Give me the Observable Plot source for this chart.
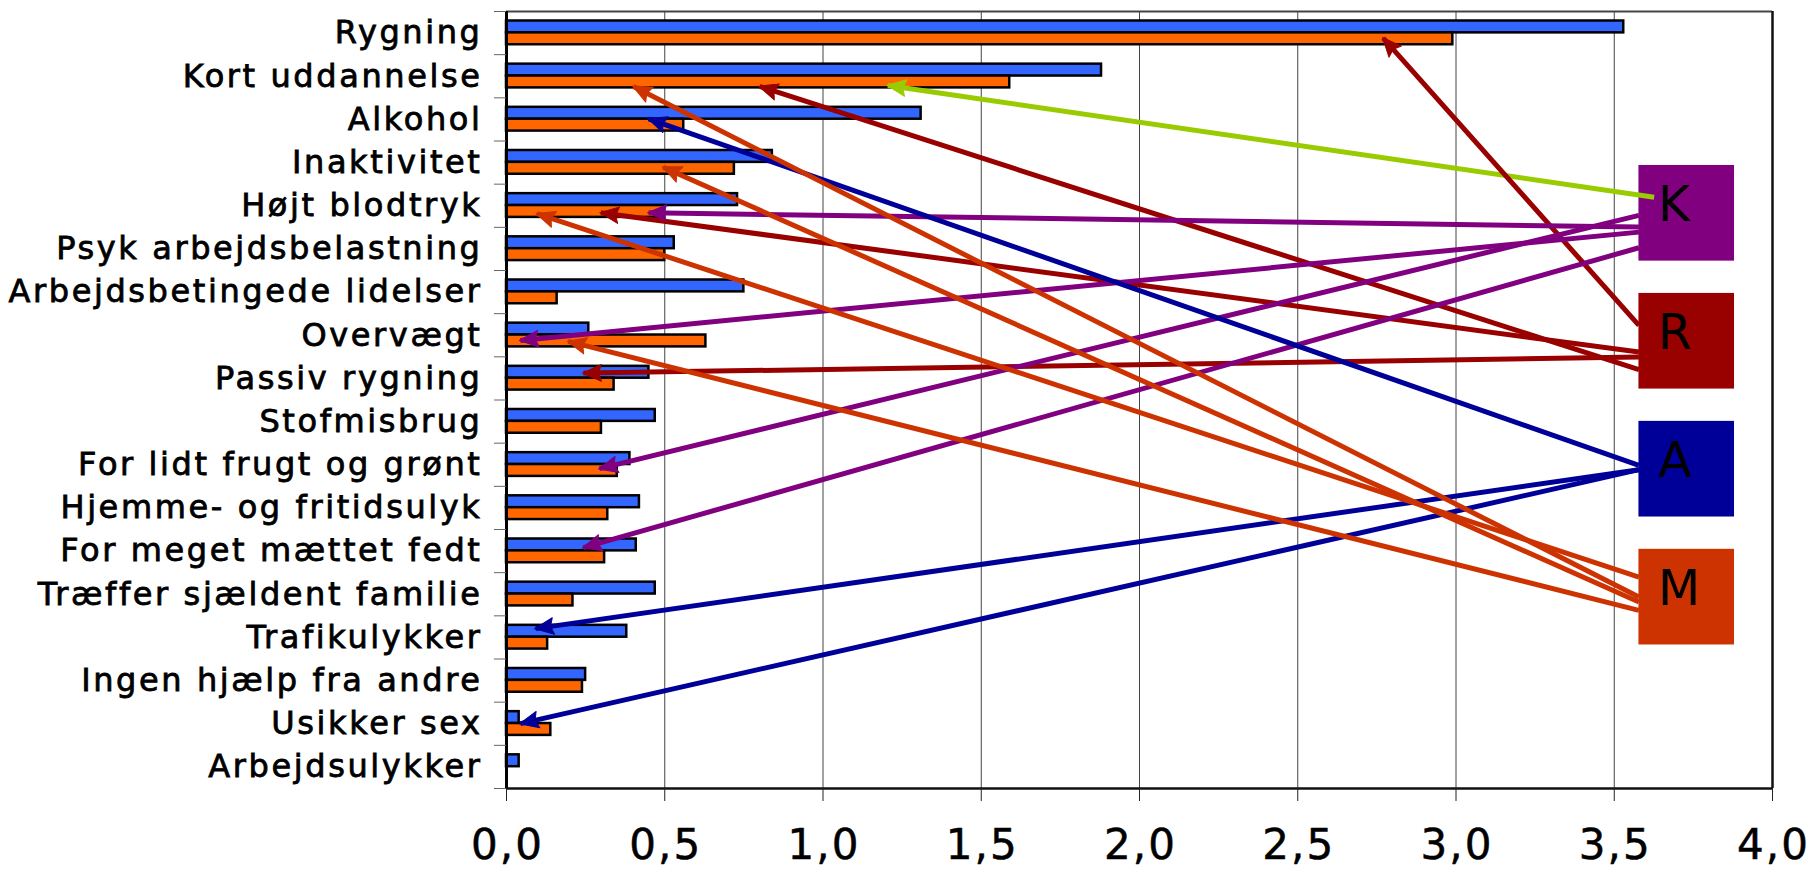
<!DOCTYPE html>
<html>
<head>
<meta charset="utf-8">
<script src="https://cdn.jsdelivr.net/npm/d3@7"></script>
<script src="https://cdn.jsdelivr.net/npm/@observablehq/plot@0.6"></script>
<style>
  html, body { margin: 0; padding: 0; background: #fff; }
  svg { display: block; }
</style>
</head>
<body>
<div id="chart"></div>
<script>
// ---- data ----
const categories = ["Rygning","Kort uddannelse","Alkohol","Inaktivitet","Højt blodtryk","Psyk arbejdsbelastning","Arbejdsbetingede lidelser","Overvægt","Passiv rygning","Stofmisbrug","For lidt frugt og grønt","Hjemme- og fritidsulyk","For meget mættet fedt","Træffer sjældent familie","Trafikulykker","Ingen hjælp fra andre","Usikker sex","Arbejdsulykker"];
const blueValues   = [3.53,1.88,1.31,0.84,0.73,0.53,0.75,0.26,0.45,0.47,0.39,0.42,0.41,0.47,0.38,0.25,0.04,0.04];
const orangeValues = [2.99,1.59,0.56,0.72,0.50,0.50,0.16,0.63,0.34,0.30,0.35,0.32,0.31,0.21,0.13,0.24,0.14,0];
const xTicks = [0,0.5,1,1.5,2,2.5,3,3.5,4];
const xTickLabels = ["0,0","0,5","1,0","1,5","2,0","2,5","3,0","3,5","4,0"];

// annotation boxes (x in value units, y in category units)
const boxLetters = ["K","R","A","M"];
const boxColors  = ["#800080","#990000","#000099","#CC3300"];
const boxTop     = [3.567, 6.531, 9.495, 12.459];
const boxBottom  = [5.783, 8.747, 11.711, 14.675];
const boxLeft = 3.578, boxRight = 3.880;

// annotation arrows (from box to bar)
const arrowColors = ["#99CC00","#990000","#990000","#990000","#990000","#800080","#800080","#800080","#800080","#000099","#000099","#000099","#CC3300","#CC3300","#CC3300","#CC3300"];
const arrowFromX = [3.626,3.578,3.578,3.578,3.578,3.578,3.578,3.578,3.578,3.578,3.578,3.578,3.578,3.578,3.578,3.578];
const arrowFromY = [4.301,7.272,8.298,7.890,8.006,4.995,5.111,4.724,5.473,10.514,10.614,10.614,13.564,13.680,13.101,13.872];
const arrowToX   = [1.205,2.770,0.800,0.298,0.243,0.449,0.044,0.294,0.243,0.449,0.092,0.044,0.401,0.495,0.096,0.195];
const arrowToY   = [1.714,0.618,1.737,4.662,8.377,4.662,7.619,10.591,12.420,2.485,14.296,16.496,1.737,3.606,4.685,7.642];

// ---- chart ----
const idx = d3.range(categories.length);
const boxIdx = d3.range(boxLetters.length);
const arrowIdx = d3.range(arrowColors.length);

const chart = Plot.plot({
  width: 1810,
  height: 869,
  marginLeft: 506,
  marginRight: 38,
  marginTop: 11,
  marginBottom: 81,
  style: { fontFamily: "'DejaVu Sans', Verdana, sans-serif", background: "#fff", color: "#000", overflow: "visible" },
  x: { domain: [0, 4] },
  y: { domain: [categories.length, 0] },
  marks: [
    // vertical gridlines
    Plot.ruleX(xTicks.slice(1, -1), { stroke: "#444", strokeWidth: 1 }),
    // bars
    Plot.rect(idx, { x1: 0, x2: i => blueValues[i], y1: i => i + 0.22, y2: i => i + 0.495, fill: "#3366FF", stroke: "#000", strokeWidth: 2.5 }),
    Plot.rect(idx.filter(i => orangeValues[i] > 0), { x1: 0, x2: i => orangeValues[i], y1: i => i + 0.495, y2: i => i + 0.77, fill: "#FF6600", stroke: "#000", strokeWidth: 2.5 }),
    // frame
    Plot.ruleY([0], { stroke: "#444", strokeWidth: 2 }),
    Plot.ruleX([4], { stroke: "#111", strokeWidth: 2.5 }),
    Plot.ruleY([categories.length], { stroke: "#111", strokeWidth: 2.5 }),
    Plot.ruleX([0], { stroke: "#000", strokeWidth: 3 }),
    // axes
    Plot.axisY({ ticks: d3.range(categories.length + 1), tickSize: 12, tickFormat: () => "", stroke: "#666", label: null }),
    Plot.axisY({ ticks: idx.map(i => i + 0.5), tickSize: 0, tickPadding: 24, tickFormat: d => categories[Math.floor(d)], fontSize: 32, fill: "#000", label: null }),
    Plot.axisX({ ticks: xTicks, tickSize: 13, tickPadding: 28, tickFormat: d => xTickLabels[xTicks.indexOf(d)], fontSize: 42, stroke: "#222", fill: "#000", label: null }),
    // boxes
    Plot.rect(boxIdx, { x1: boxLeft, x2: boxRight, y1: i => boxTop[i], y2: i => boxBottom[i], fill: i => boxColors[i] }),
    // arrows
    Plot.link(arrowIdx, {
      x1: i => arrowFromX[i], y1: i => arrowFromY[i],
      x2: i => arrowToX[i], y2: i => arrowToY[i],
      stroke: i => arrowColors[i], strokeWidth: 5, markerEnd: "arrow"
    }),
    // box letters
    Plot.text(boxIdx, { x: boxLeft, y: i => (boxTop[i] + boxBottom[i]) / 2, text: i => boxLetters[i], textAnchor: "start", dx: 19, dy: -8, fontSize: 49, fill: "#000" })
  ]
});

// category labels: letter spacing and slightly heavier strokes
chart.querySelectorAll('g[aria-label="y-axis tick label"] text').forEach(t => {
  t.style.letterSpacing = "2.6px";
  t.setAttribute("stroke", "#000");
  t.setAttribute("stroke-width", "0.8");
});
chart.querySelectorAll('g[aria-label="x-axis tick label"] text').forEach(t => {
  t.style.letterSpacing = "2px";
  t.setAttribute("dx", "1");
  t.setAttribute("stroke", "#000");
  t.setAttribute("stroke-width", "0.5");
});
// filled triangular arrow heads
chart.querySelectorAll("marker").forEach(m => {
  const c = m.getAttribute("stroke");
  m.setAttribute("fill", c);
  m.setAttribute("stroke", c);
  m.setAttribute("stroke-width", "0.3");
  m.setAttribute("overflow", "visible");
  const p = m.querySelector("path");
  if (p) p.setAttribute("d", "M0.3,0L-5.4,-2.5L-4.5,0L-5.4,2.5Z");
});

document.getElementById("chart").appendChild(chart);
</script>
</body>
</html>
